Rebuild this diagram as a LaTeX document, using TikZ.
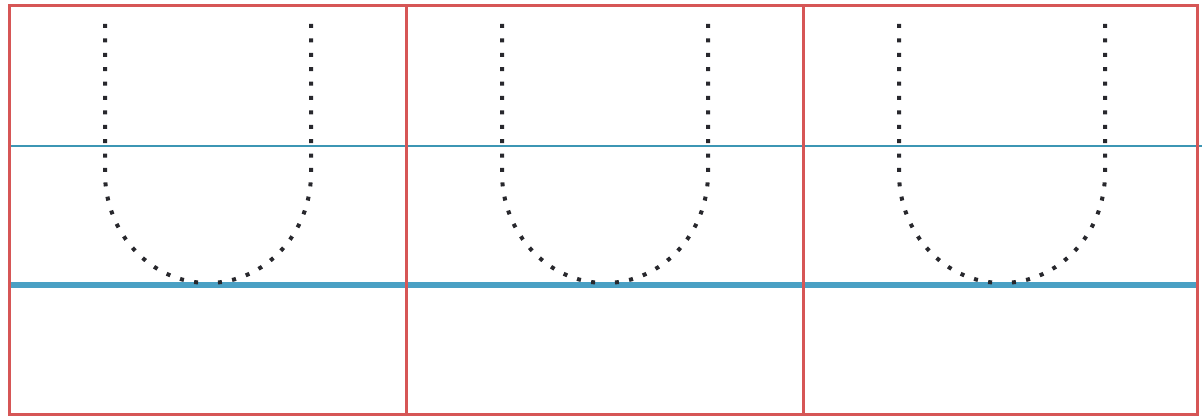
\documentclass[tikz,border=0pt]{standalone}
\usepackage{tikz}
\definecolor{panelred}{RGB}{214,86,86}
\definecolor{waterblue}{RGB}{74,160,196}
\definecolor{levelblue}{RGB}{60,150,180}
\definecolor{dotgray}{RGB}{40,40,45}
\tikzset{
  panelbox/.style={draw=panelred,line width=1.5pt},
  levelline/.style={draw=levelblue,line width=1pt},
  baseline line/.style={draw=waterblue,line width=3pt},
  ucurve/.style={draw=dotgray,line width=2pt,dash pattern=on 2pt off 5.2pt}
}
\begin{document}
\begin{tikzpicture}[x=0.5pt,y=0.5pt]
\useasboundingbox (0,0) rectangle (1202,418);
% water levels
\draw[levelline] (9,272) -- (1202,272);
\draw[baseline line] (9,133) -- (1197,133);
% three dotted U curves, each as two halves from the top
\foreach \i in {0,1,2}{
  \draw[ucurve] ({105+397*\i},394) -- ({105+397*\i},245) arc (180:270:103 and 110);
  \draw[ucurve] ({311+397*\i},394) -- ({311+397*\i},245) arc (0:-90:103 and 110);
}
% panel frames
\draw[panelbox] (9,4) rectangle (1197,412);
\draw[panelbox] (406,4) -- (406,412);
\draw[panelbox] (803,4) -- (803,412);
\end{tikzpicture}
\end{document}
